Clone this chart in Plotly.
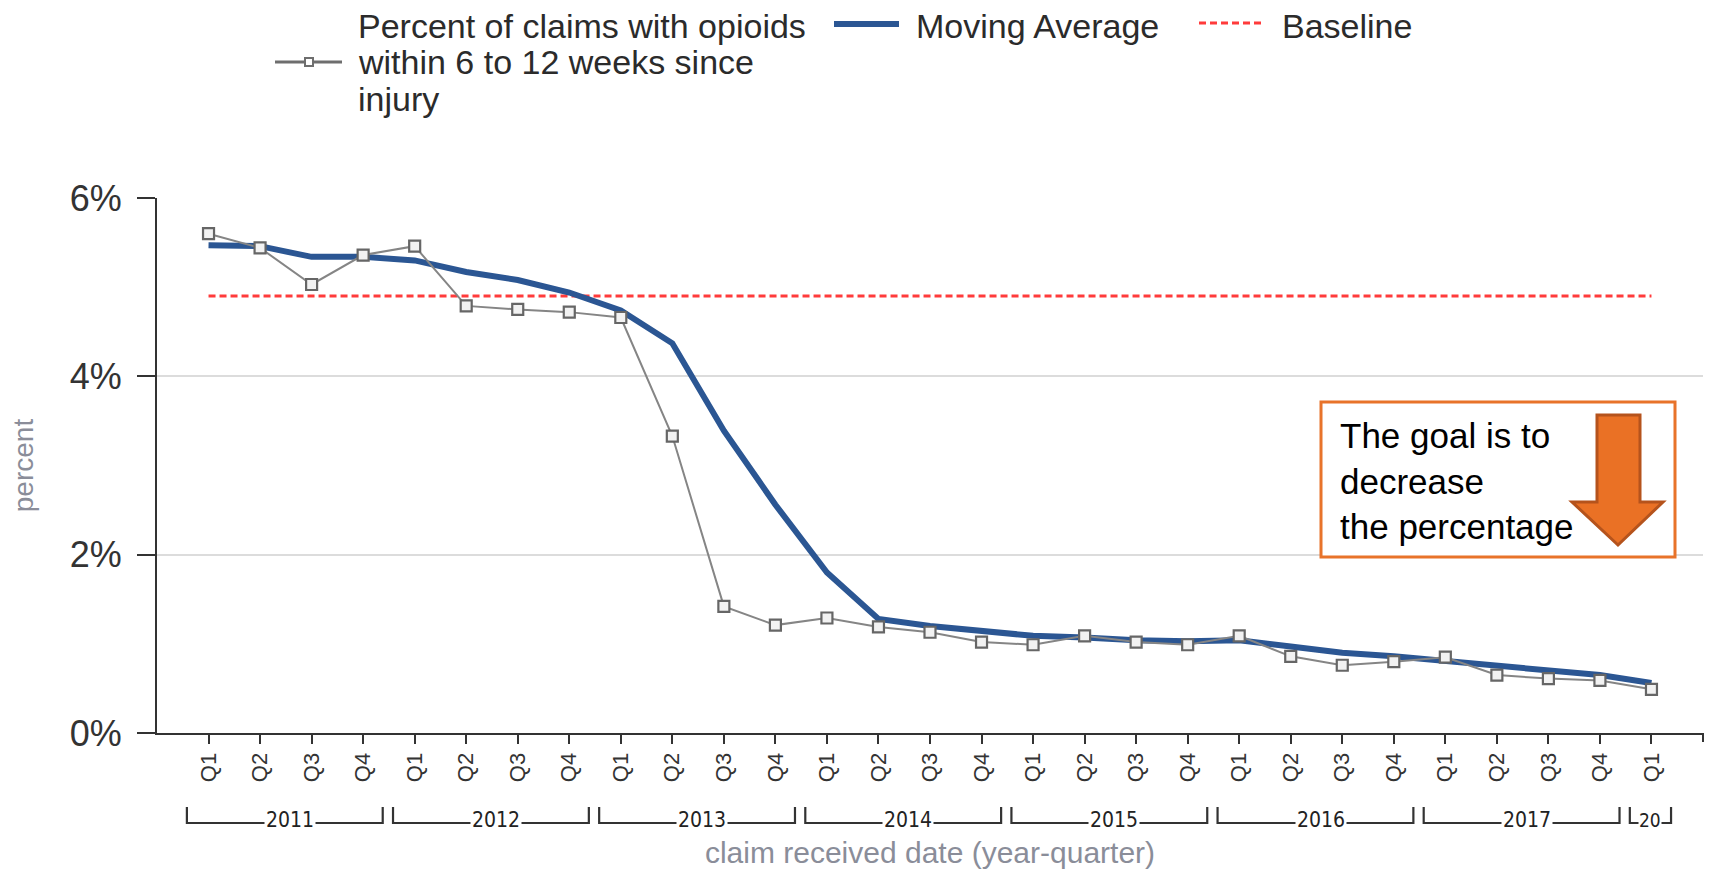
import plotly.graph_objects as go

# ---------------- data ----------------
years = [2011, 2011, 2011, 2011, 2012, 2012, 2012, 2012, 2013, 2013, 2013, 2013,
         2014, 2014, 2014, 2014, 2015, 2015, 2015, 2015, 2016, 2016, 2016, 2016,
         2017, 2017, 2017, 2017, 2018]
quarters = ["Q1", "Q2", "Q3", "Q4"] * 7 + ["Q1"]
year_labels = {2011: "2011", 2012: "2012", 2013: "2013", 2014: "2014",
               2015: "2015", 2016: "2016", 2017: "2017", 2018: "20"}

pct_opioids = [5.60, 5.44, 5.03, 5.36, 5.46, 4.79, 4.75, 4.72, 4.66, 3.33, 1.42, 1.21,
               1.29, 1.19, 1.13, 1.02, 0.99, 1.09, 1.02, 0.99, 1.09, 0.86, 0.76, 0.80,
               0.85, 0.65, 0.61, 0.59, 0.49]
moving_avg = [5.47, 5.46, 5.34, 5.34, 5.30, 5.17, 5.08, 4.94, 4.74, 4.37, 3.39, 2.56,
              1.80, 1.28, 1.20, 1.14, 1.09, 1.07, 1.04, 1.03, 1.04, 0.97, 0.90, 0.86,
              0.81, 0.75, 0.70, 0.65, 0.56]
baseline_value = 4.9
y_ticks = [0, 2, 4, 6]
y_tick_text = ["0%", "2%", "4%", "6%"]

categories = [f"{y} {q}" for y, q in zip(years, quarters)]

# ---------------- layout helpers (page pixel -> paper) ----------------
OFF = 8                      # default body margin of the html page
W, H = 1714 - 2 * OFF, 877 - 2 * OFF
PLOT_L, PLOT_R, PLOT_T, PLOT_B = 157, 1703, 198, 733   # page coordinates
L, T = PLOT_L - OFF, PLOT_T - OFF
R, B = W - (PLOT_R - OFF), H - (PLOT_B - OFF)
PW, PH = PLOT_R - PLOT_L, PLOT_B - PLOT_T


def px(x):
    return (x - PLOT_L) / PW


def py(y):
    return (PLOT_B - y) / PH


BLUE = "#2B5693"
GRAY_LINE = "#858585"
RED = "#FF3B3B"
ORANGE = "#E8732A"
AXIS = "#333333"
TITLE_GRAY = "#8A8D99"
FONT = "Liberation Sans, Arial, sans-serif"
NARROW = "Liberation Sans Narrow, DejaVu Sans Condensed, Liberation Sans, sans-serif"

fig = go.Figure()

fig.add_trace(go.Scatter(
    x=categories, y=[baseline_value] * len(categories), mode="lines",
    name="Baseline", line=dict(color=RED, width=3, dash="7px,4px"),
    showlegend=False, hoverinfo="skip"))

fig.add_trace(go.Scatter(
    x=categories, y=moving_avg, mode="lines", name="Moving Average",
    line=dict(color=BLUE, width=6), showlegend=False))

fig.add_trace(go.Scatter(
    x=categories, y=pct_opioids, mode="lines+markers",
    name="Percent of claims with opioids within 6 to 12 weeks since injury",
    line=dict(color=GRAY_LINE, width=2),
    marker=dict(symbol="square", size=11, color="#F2F2F2",
                line=dict(color="#666666", width=2.2)),
    showlegend=False))

shapes = []
annotations = []

# ---------- manual legend ----------
LEG_FONT = dict(family=FONT, size=34, color="#2B2B2B")
shapes.append(dict(type="line", xref="paper", yref="paper",
                   x0=px(275), x1=px(342), y0=py(62), y1=py(62),
                   line=dict(color="#6E6E6E", width=3)))
shapes.append(dict(type="rect", xref="paper", yref="paper",
                   x0=px(305), x1=px(313), y0=py(58), y1=py(66),
                   fillcolor="white", line=dict(color="#6E6E6E", width=2)))
legend_lines = ["Percent of claims with opioids", "within 6 to 12 weeks since", "injury"]
legend_line_y = [26, 62, 99]
for txt, yy in zip(legend_lines, legend_line_y):
    annotations.append(dict(text=txt, xref="paper", yref="paper", x=px(356), y=py(yy),
                            xanchor="left", yanchor="middle", showarrow=False,
                            font=LEG_FONT))
shapes.append(dict(type="line", xref="paper", yref="paper",
                   x0=px(834), x1=px(899), y0=py(24), y1=py(24),
                   line=dict(color=BLUE, width=6)))
annotations.append(dict(text="Moving Average", xref="paper", yref="paper", x=px(914), y=py(26),
                        xanchor="left", yanchor="middle", showarrow=False, font=LEG_FONT))
shapes.append(dict(type="line", xref="paper", yref="paper",
                   x0=px(1199), x1=px(1265), y0=py(23), y1=py(23),
                   line=dict(color=RED, width=3, dash="7px,4px")))
annotations.append(dict(text="Baseline", xref="paper", yref="paper", x=px(1280), y=py(26),
                        xanchor="left", yanchor="middle", showarrow=False, font=LEG_FONT))

# ---------- year brackets under the quarter labels ----------
y_top, y_bot = py(807), py(823)
for yr in sorted(set(years)):
    idx = [i for i, y in enumerate(years) if y == yr]
    x0, x1 = idx[0] - 0.42, idx[-1] + 0.38
    shapes.append(dict(type="path", xref="x", yref="paper",
                       path=f"M {x0},{y_top} L {x0},{y_bot} L {x1},{y_bot} L {x1},{y_top}",
                       line=dict(color=AXIS, width=2.2)))
    short = len(idx) == 1
    annotations.append(dict(text=year_labels[yr], xref="x", yref="paper",
                            x=(x0 + x1) / 2 + (0 if short else 0.1), y=py(820),
                            xanchor="center", yanchor="middle",
                            showarrow=False, bgcolor="white", borderpad=0 if short else 1,
                            font=dict(family=NARROW, size=19 if short else 21, color="#222222")))

# small end mark on the x-axis line
shapes.append(dict(type="line", xref="paper", yref="paper",
                   x0=1, x1=1, y0=0, y1=py(742),
                   line=dict(color=AXIS, width=2)))

# ---------- goal call-out box ----------
shapes.append(dict(type="rect", xref="paper", yref="paper",
                   x0=px(1321), x1=px(1675), y0=py(402), y1=py(557),
                   fillcolor="white", line=dict(color=ORANGE, width=3), layer="above"))
arrow_pts = [(1597, 415), (1640, 415), (1640, 502), (1663, 502), (1618, 545),
             (1572, 502), (1597, 502)]
arrow_path = "M " + " L ".join(f"{px(a)},{py(b)}" for a, b in arrow_pts) + " Z"
shapes.append(dict(type="path", xref="paper", yref="paper", path=arrow_path,
                   fillcolor="#EA7125", line=dict(color="#B5531C", width=3), layer="above"))
annotations.append(dict(text="The goal is to<br>decrease<br>the percentage",
                        xref="paper", yref="paper", x=px(1338), y=py(481),
                        xanchor="left", yanchor="middle", align="left", showarrow=False,
                        font=dict(family=FONT, size=35, color="black")))

fig.update_layout(
    width=W, height=H,
    margin=dict(l=L, r=R, t=T, b=B),
    paper_bgcolor="white", plot_bgcolor="white",
    showlegend=False,
    shapes=shapes, annotations=annotations,
    xaxis=dict(
        type="category", range=[-1, 29],
        tickvals=categories, ticktext=quarters, tickangle=-90,
        tickfont=dict(family=FONT, size=22, color=AXIS),
        showline=True, linecolor=AXIS, linewidth=2,
        ticks="outside", ticklen=9, tickwidth=2, tickcolor=AXIS,
        showgrid=False, zeroline=False,
        title=dict(text="claim received date (year-quarter)", standoff=73,
                   font=dict(family=FONT, size=30, color=TITLE_GRAY)),
        automargin=False,
    ),
    yaxis=dict(
        range=[0, 6], tickvals=y_ticks, ticktext=y_tick_text,
        tickfont=dict(family=FONT, size=36, color=AXIS),
        ticklabelstandoff=8,
        showline=True, linecolor=AXIS, linewidth=2,
        ticks="outside", ticklen=18, tickwidth=2, tickcolor=AXIS,
        showgrid=True, gridcolor="#DCDCDC", gridwidth=1.5, zeroline=False,
        title=dict(text="percent", standoff=28,
                   font=dict(family=FONT, size=28, color=TITLE_GRAY)),
        automargin=False,
    ),
)

fig.write_html("out.html")
